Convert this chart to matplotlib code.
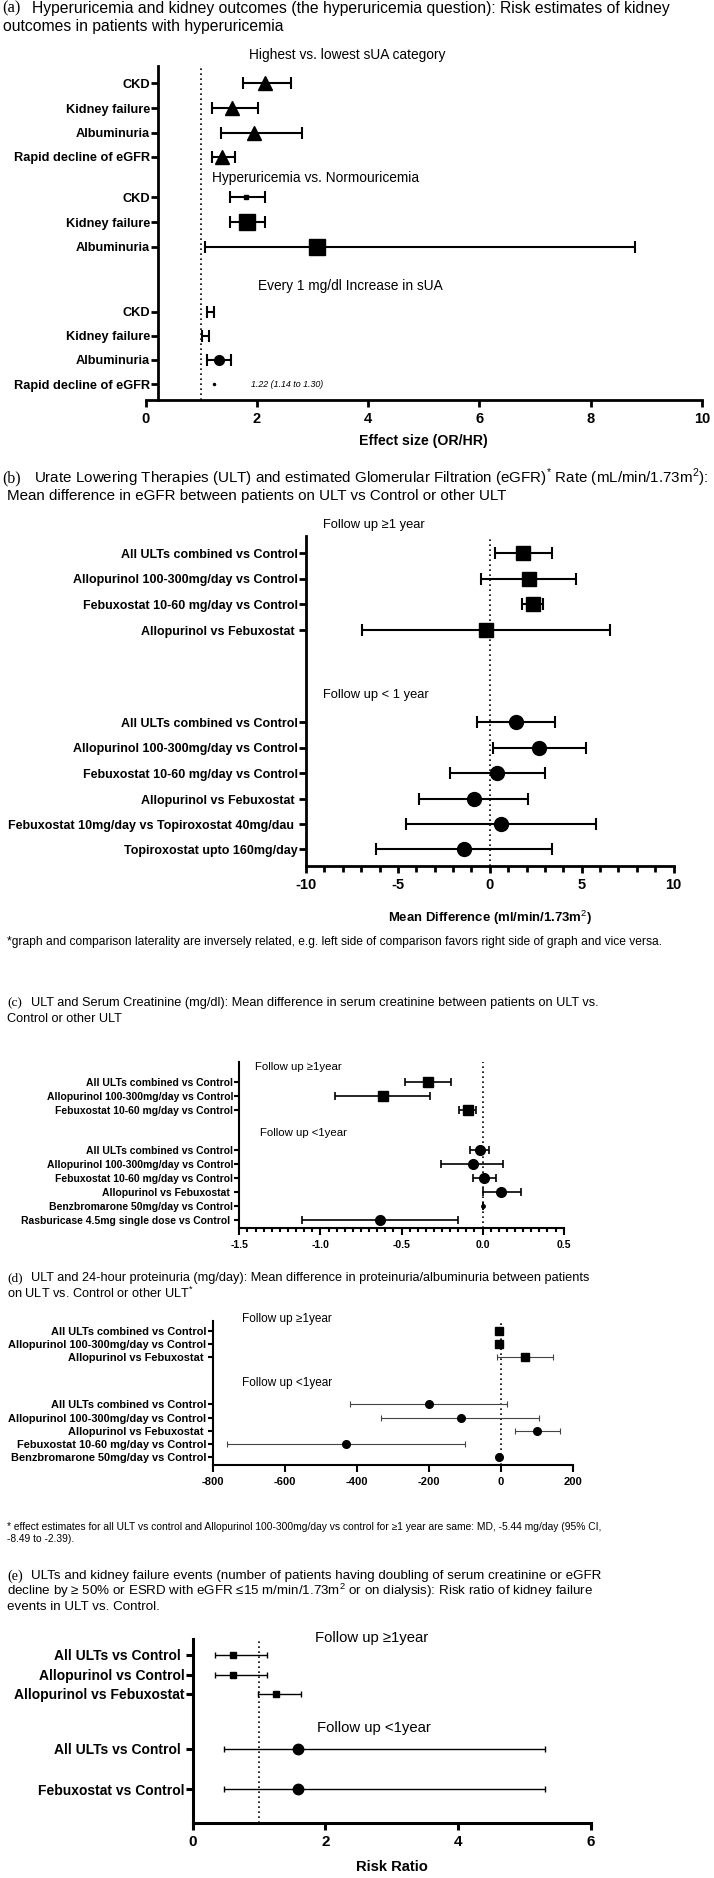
import matplotlib
matplotlib.use("Agg")
import matplotlib.pyplot as plt
from matplotlib.ticker import MultipleLocator

W, H = 714, 1878

SANS = "Liberation Sans"
SERIF = "Liberation Serif"
plt.rcParams["font.family"] = [SANS, "DejaVu Sans"]
plt.rcParams["mathtext.fontset"] = "custom"
plt.rcParams["mathtext.rm"] = SANS
plt.rcParams["axes.unicode_minus"] = False

# ---------------- data ----------------
# (a) hyperuricemia and kidney outcomes
a_labels = ["CKD", "Kidney failure", "Albuminuria", "Rapid decline of eGFR",
            "CKD", "Kidney failure", "Albuminuria",
            "CKD", "Kidney failure", "Albuminuria", "Rapid decline of eGFR"]
a_est = [2.15, 1.55, 1.95, 1.38, 1.80, 1.82, 3.08, 1.17, 1.07, 1.31, 1.22]
a_lo = [1.75, 1.19, 1.35, 1.20, 1.52, 1.52, 1.07, 1.11, 1.02, 1.11, 1.14]
a_hi = [2.62, 2.01, 2.81, 1.61, 2.15, 2.15, 8.80, 1.23, 1.13, 1.53, 1.30]
a_groups = ["Highest vs. lowest sUA category", "Hyperuricemia vs. Normouricemia",
            "Every 1 mg/dl Increase in sUA"]

# (b) ULT and eGFR
b_labels = ["All ULTs combined vs Control", "Allopurinol 100-300mg/day vs Control",
            "Febuxostat 10-60 mg/day vs Control", "Allopurinol vs Febuxostat ",
            "All ULTs combined vs Control", "Allopurinol 100-300mg/day vs Control",
            "Febuxostat 10-60 mg/day vs Control", "Allopurinol vs Febuxostat ",
            "Febuxostat 10mg/day vs Topiroxostat 40mg/dau ", "Topiroxostat upto 160mg/day"]
b_est = [1.81, 2.11, 2.35, -0.20, 1.44, 2.70, 0.42, -0.87, 0.62, -1.41]
b_lo = [0.30, -0.45, 1.73, -6.94, -0.67, 0.17, -2.16, -3.84, -4.58, -6.20]
b_hi = [3.37, 4.71, 2.92, 6.52, 3.54, 5.23, 3.00, 2.06, 5.80, 3.40]
b_groups = ["Follow up \u22651 year", "Follow up < 1 year"]

# (c) ULT and serum creatinine
c_labels = ["All ULTs combined vs Control", "Allopurinol 100-300mg/day vs Control",
            "Febuxostat 10-60 mg/day vs Control",
            "All ULTs combined vs Control", "Allopurinol 100-300mg/day vs Control",
            "Febuxostat 10-60 mg/day vs Control", "Allopurinol vs Febuxostat ",
            "Benzbromarone 50mg/day vs Control", "Rasburicase 4.5mg single dose vs Control "]
c_est = [-0.335, -0.614, -0.093, -0.014, -0.062, 0.006, 0.115, 0.0, -0.634]
c_lo = [-0.476, -0.913, -0.146, -0.076, -0.254, -0.062, 0.0, 0.0, -1.113]
c_hi = [-0.192, -0.324, -0.042, 0.037, 0.127, 0.085, 0.234, 0.0, -0.152]
c_groups = ["Follow up \u22651year", "Follow up <1year"]

# (d) ULT and 24-hour proteinuria
d_labels = ["All ULTs combined vs Control", "Allopurinol 100-300mg/day vs Control",
            "Allopurinol vs Febuxostat ",
            "All ULTs combined vs Control", "Allopurinol 100-300mg/day vs Control",
            "Allopurinol vs Febuxostat ", "Febuxostat 10-60 mg/day vs Control",
            "Benzbromarone 50mg/day vs Control"]
d_est = [-5.44, -5.44, 67, -200, -111, 101, -429, -4]
d_lo = [-8.49, -8.49, -10, -419, -334, 38, -760, -6]
d_hi = [-2.39, -2.39, 144, 16, 106, 163, -101, -2]
d_groups = ["Follow up \u22651year", "Follow up <1year"]

# (e) ULT and kidney failure events
e_labels = ["All ULTs vs Control ", "Allopurinol vs Control", "Allopurinol vs Febuxostat",
            "All ULTs vs Control ", "Febuxostat vs Control"]
e_est = [0.61, 0.61, 1.25, 1.59, 1.59]
e_lo = [0.33, 0.33, 0.98, 0.47, 0.47]
e_hi = [1.12, 1.12, 1.63, 5.31, 5.31]
e_groups = ["Follow up \u22651year", "Follow up <1year"]

fig = plt.figure(figsize=(W / 100, H / 100), dpi=100)
renderer = fig.canvas.get_renderer()


def fy(y):
    return 1 - y / H


def fit(s, width, **kw):
    # font size that gives the text the width it has in the reference
    t = fig.text(0, 0, s, fontsize=10, **kw)
    w = t.get_window_extent(renderer).width
    t.remove()
    return 10 * width / w


def panel(x0, x1, ytop, ybot, xlim, ref, rows, labels, est, lo, hi, markers, msizes,
          elw, cap, lab_size, tick_size, spine_lw, ecolor="black", spine_x=None, tlen=5):
    ax = fig.add_axes([x0 / W, fy(ybot), (x1 - x0) / W, (ybot - ytop) / H])
    ax.set_xlim(*xlim)
    ax.set_ylim(ybot, ytop)
    for s in ["top", "right"]:
        ax.spines[s].set_visible(False)
    ax.spines["left"].set_linewidth(spine_lw)
    ax.spines["bottom"].set_linewidth(spine_lw)
    if spine_x is not None:
        ax.spines["left"].set_position(("data", spine_x))
    ax.axvline(ref, color="black", lw=1.2, ls=(0, (1, 2)), zorder=1)
    for i, y in enumerate(rows):
        ax.errorbar(est[i], y, xerr=[[est[i] - lo[i]], [hi[i] - est[i]]],
                    fmt=markers[i], ms=msizes[i], color="black", ecolor=ecolor,
                    elinewidth=elw[i], capsize=cap, capthick=elw[i], zorder=3)
    ax.set_yticks(rows)
    ax.set_yticklabels(labels, fontweight="bold", fontsize=lab_size)
    ax.tick_params(axis="y", length=tlen, width=spine_lw, pad=1)
    ax.tick_params(axis="x", length=5, width=spine_lw, labelsize=tick_size)
    return ax


def bold_ticks(ax):
    for t in ax.get_xticklabels():
        t.set_fontweight("bold")


def title(y_lines, lines, letter, width, x_first=31, x_rest=7.3, x_letter=7):
    size = fit(lines[0], width)
    fig.text(x_letter / W, fy(y_lines[0]), letter, fontfamily=SERIF, fontsize=size * 1.05,
             va="center", ha="left")
    for k, (y, s) in enumerate(zip(y_lines, lines)):
        fig.text((x_first if k == 0 else x_rest) / W, fy(y), s, fontsize=size,
                 va="center", ha="left")


# ---------------- (a) ----------------
title([8.3, 26], ["Hyperuricemia and kidney outcomes (the hyperuricemia question): Risk estimates of kidney",
                  "outcomes in patients with hyperuricemia"], "(a)", 640, 32, 2.7, 2.7)
a_rows = [83.3, 108.3, 132.7, 156.7, 197.3, 222, 246.7, 311.7, 335.7, 360, 384.3]
a_mk = ["^"] * 4 + ["s"] * 3 + ["o"] * 4
a_ms = [10, 10, 10, 10, 3, 11, 11, 0, 0, 7, 1.5]
a_lw = [1.5] * 10 + [0]
a_fs = fit("Rapid decline of eGFR", 137, fontweight="bold")
ax = panel(145.7, 702, 65.7, 400, (0, 10), 1, a_rows, a_labels, a_est, a_lo, a_hi,
           a_mk, a_ms, a_lw, 4, a_fs, 10.5, 2.0, spine_x=0.23)
ax.xaxis.set_major_locator(MultipleLocator(2))
bold_ticks(ax)
ax.set_xlabel("Effect size (OR/HR)", fontweight="bold",
              fontsize=fit("Effect size (OR/HR)", 128, fontweight="bold"), labelpad=6)
a_hs = fit(a_groups[0], 197)
for (x, y), s in zip([(1.86, 55), (1.19, 178.3), (2.02, 285.7)], a_groups):
    ax.text(x, y, s, fontsize=a_hs, va="center", ha="left", clip_on=False)
ax.text(1.9, a_rows[-1], "1.22 (1.14 to 1.30)", style="italic", va="center",
        fontsize=fit("1.22 (1.14 to 1.30)", 73, style="italic"))

# ---------------- (b) ----------------
title([478.3, 496], ["Urate Lowering Therapies (ULT) and estimated Glomerular Filtration (eGFR)$^{*}$ Rate (mL/min/1.73m$^{2}$):",
                     "Mean difference in eGFR between patients on ULT vs Control or other ULT"],
      "(b)", 676, 34, 6.7, 2.7)
b_rows = [553.3, 579, 604.3, 630, 722.3, 747.7, 773.3, 799, 824, 849.3]
b_mk = ["s"] * 4 + ["o"] * 6
b_ms = [10.5] * 4 + [10] * 6
b_fs = fit("Febuxostat 10mg/day vs Topiroxostat 40mg/dau ", 290, fontweight="bold")
ax = panel(306, 673.5, 535.7, 866, (-10, 10), 0, b_rows, b_labels, b_est, b_lo, b_hi,
           b_mk, b_ms, [1.5] * 10, 4, b_fs, 10.5, 2.0)
ax.xaxis.set_major_locator(MultipleLocator(5))
ax.xaxis.set_minor_locator(MultipleLocator(1))
ax.tick_params(axis="x", which="minor", length=4, width=2.0)
bold_ticks(ax)
ax.set_xlabel("Mean Difference (ml/min/1.73m$^{2}$)", fontweight="bold",
              fontsize=fit("Mean Difference (ml/min/1.73m2)", 205, fontweight="bold"), labelpad=12)
b_hs = fit(b_groups[0], 102)
for y, s in zip([525, 695.3], b_groups):
    ax.text(-9.1, y, s, fontsize=b_hs, va="center", ha="left", clip_on=False)
fn_b = ("*graph and comparison laterality are inversely related, e.g. left side of comparison "
        "favors right side of graph and vice versa.")
fig.text(6.7 / W, fy(942), fn_b, fontsize=fit(fn_b, 656), va="center")

# ---------------- (c) ----------------
title([1003.3, 1019.3], ["ULT and Serum Creatinine (mg/dl): Mean difference in serum creatinine between patients on ULT vs.",
                         "Control or other ULT"], "(c)", 572)
c_rows = [1081.7, 1095.7, 1109.7, 1150, 1164, 1178, 1192.3, 1206.3, 1220.3]
c_mk = ["s"] * 3 + ["o"] * 6
c_ms = [7] * 3 + [7, 7, 7, 7, 2.5, 7]
c_fs = fit("Rasburicase 4.5mg single dose vs Control ", 213, fontweight="bold")
ax = panel(239.3, 563.7, 1061.7, 1228.3, (-1.5, 0.5), 0, c_rows, c_labels, c_est, c_lo, c_hi,
           c_mk, c_ms, [1.2] * 9, 3, c_fs, 7.5, 1.5, tlen=3.5)
ax.xaxis.set_major_locator(MultipleLocator(0.5))
ax.xaxis.set_minor_locator(MultipleLocator(0.05))
ax.tick_params(axis="x", which="minor", length=3, width=1.5)
bold_ticks(ax)
c_hs = fit(c_groups[0], 87)
for (x, y), s in zip([(-1.404, 1066.7), (-1.37, 1133.3)], c_groups):
    ax.text(x, y, s, fontsize=c_hs, va="center", ha="left", clip_on=False)

# ---------------- (d) ----------------
title([1278.3, 1293.3], ["ULT and 24-hour proteinuria (mg/day): Mean difference in proteinuria/albuminuria between patients",
                         "on ULT vs. Control or other ULT$^{*}$"], "(d)", 561)
d_rows = [1330.7, 1344, 1357, 1404.3, 1418, 1431, 1444, 1457.3]
d_mk = ["s"] * 3 + ["o"] * 5
d_ms = [5.5] * 3 + [5.5] * 5
d_fs = fit("Allopurinol 100-300mg/day vs Control", 197, fontweight="bold")
ax = panel(212.7, 573, 1321, 1464.7, (-800, 200), 0, d_rows, d_labels, d_est, d_lo, d_hi,
           d_mk, d_ms, [0.8] * 8, 2.5, d_fs, 8, 1.5, ecolor="#444444", tlen=3.5)
ax.xaxis.set_major_locator(MultipleLocator(200))
bold_ticks(ax)
d_hs = fit(d_groups[0], 90)
for y, s in zip([1319, 1383.3], d_groups):
    ax.text(-719, y, s, fontsize=d_hs, va="center", ha="left", clip_on=False)
fn_d = ("* effect estimates for all ULT vs control and Allopurinol 100-300mg/day vs control "
        "for \u22651 year are same: MD, -5.44 mg/day (95% CI,")
fn_d_fs = fit(fn_d, 596)
fig.text(7.3 / W, fy(1527), fn_d, fontsize=fn_d_fs, va="center")
fig.text(7.3 / W, fy(1539), "-8.49 to -2.39).", fontsize=fn_d_fs, va="center")

# ---------------- (e) ----------------
title([1576.3, 1591.3, 1607],
      ["ULTs and kidney failure events (number of patients having doubling of serum creatinine or eGFR",
       "decline by \u2265 50% or ESRD with eGFR \u226415 m/min/1.73m$^{2}$ or on dialysis): Risk ratio of kidney failure",
       "events in ULT vs. Control."], "(e)", 572)
e_rows = [1654.7, 1674.7, 1693.7, 1748.7, 1789]
e_mk = ["s"] * 3 + ["o"] * 2
e_ms = [4, 4, 4, 7.5, 7.5]
e_fs = fit("Allopurinol vs Febuxostat", 171, fontweight="bold")
ax = panel(192.7, 590.6, 1639, 1823, (0, 6), 1, e_rows, e_labels, e_est, e_lo, e_hi,
           e_mk, e_ms, [1.0] * 5, 2.5, e_fs, 11, 2.2)
ax.xaxis.set_major_locator(MultipleLocator(2))
bold_ticks(ax)
ax.set_xlabel("Risk Ratio", fontweight="bold",
              fontsize=fit("Risk Ratio", 72, fontweight="bold"), labelpad=8)
e_hs = fit(e_groups[0], 113)
for (x, y), s in zip([(1.85, 1638), (1.88, 1728)], e_groups):
    ax.text(x, y, s, fontsize=e_hs, va="center", ha="left", clip_on=False)

fig.savefig("out.png", dpi=100)
